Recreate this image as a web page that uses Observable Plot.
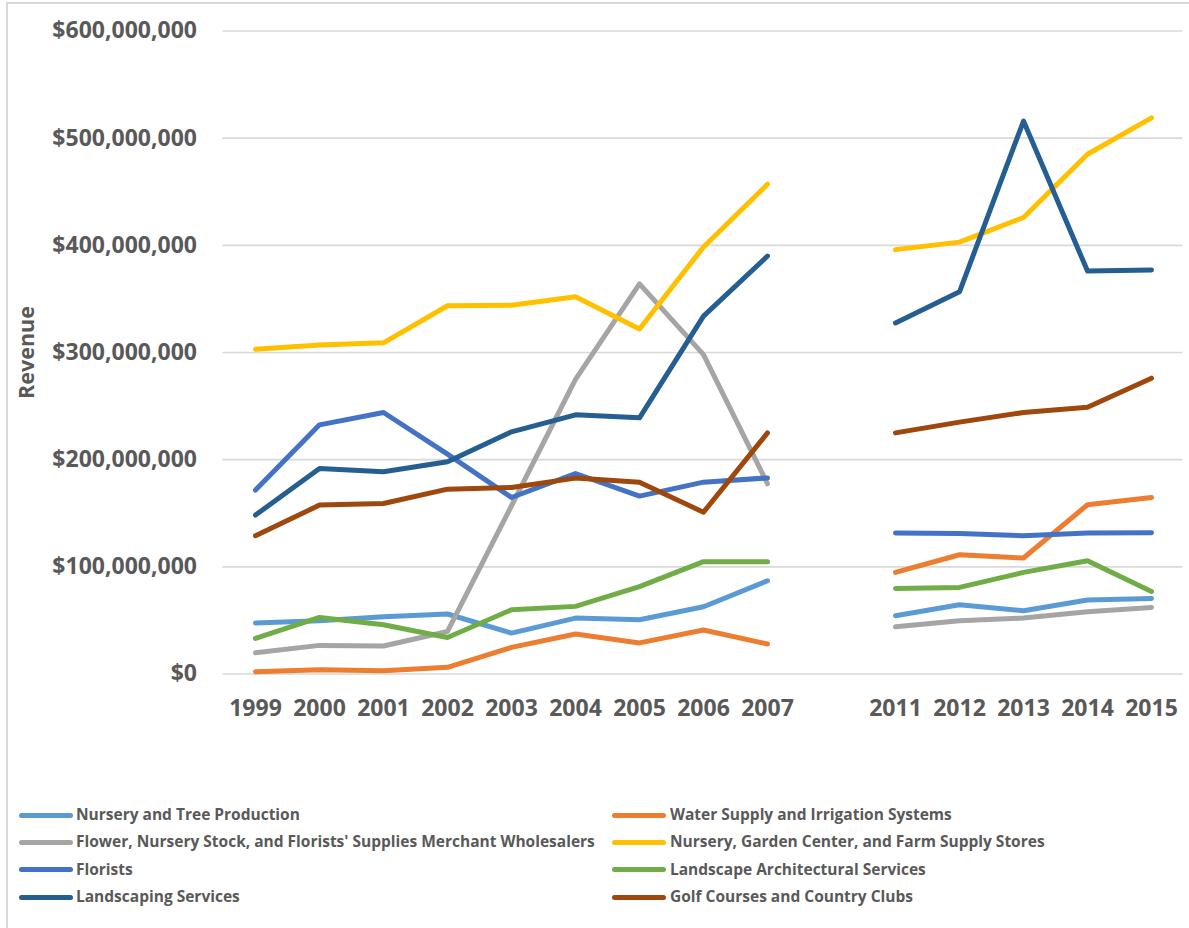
<!DOCTYPE html>
<html>
<head>
<meta charset="utf-8">
<script src="https://cdn.jsdelivr.net/npm/d3@7"></script>
<script src="https://cdn.jsdelivr.net/npm/@observablehq/plot@0.6"></script>
<style>
  html, body { margin: 0; padding: 0; background: #fff; overflow: hidden; width: 1189px; height: 928px; }
  #frame { position: absolute; left: 6px; top: 2px; width: 1300px; height: 1000px; border: 2px solid #d9d9d9; box-sizing: border-box; }
  #chart { position: absolute; left: 0; top: 0; }
  .sw { position: absolute; height: 5px; border-radius: 2.5px; }
  .lt { position: absolute; font-family: "Open Sans", sans-serif; font-weight: 700; font-size: 15.5px; color: #595959; white-space: nowrap; line-height: 1; transform: translateY(-52%); }
</style>
</head>
<body>
<div id="frame"></div>
<div id="chart"></div>
<div id="legend"></div>
<script>
// Category labels (years; a blank slot separates 2007 and 2011)
const years = ["1999","2000","2001","2002","2003","2004","2005","2006","2007","2011","2012","2013","2014","2015"];
const gapLabel = " ";

// Series names and colors (legend order)
const seriesNames = [
  "Nursery and Tree Production",
  "Water Supply and Irrigation Systems",
  "Flower, Nursery Stock, and Florists' Supplies Merchant Wholesalers",
  "Nursery, Garden Center, and Farm Supply Stores",
  "Florists",
  "Landscape Architectural Services",
  "Landscaping Services",
  "Golf Courses and Country Clubs"
];
const seriesColors = ["#5B9BD5","#ED7D31","#A5A5A5","#FFC000","#4472C4","#70AD47","#255E91","#9E480E"];

// Revenue values, millions of dollars, one per year above
const nurseryTree     = [47.5, 49.7, 53.4, 56.0, 38.2, 52.2, 50.6, 62.8, 87.0, 54.4, 64.6, 59.0, 69.0, 70.5];
const waterSupply     = [2.1, 4.0, 3.1, 6.2, 24.8, 37.3, 29.0, 41.0, 28.0, 94.8, 111.3, 108.2, 157.9, 164.7];
const flowerWholesale = [19.9, 26.7, 26.1, 39.7, 157.0, 275.0, 364.0, 298.0, 177.5, 44.1, 49.7, 52.2, 58.1, 62.1];
const gardenCenter    = [303.0, 307.0, 309.0, 343.6, 344.0, 352.0, 322.0, 398.5, 457.0, 396.0, 403.0, 426.0, 485.0, 519.0];
const florists        = [171.6, 232.5, 244.0, 205.2, 164.7, 187.1, 166.0, 179.0, 183.0, 131.5, 131.1, 129.0, 131.5, 131.8];
const landscapeArch   = [33.2, 52.8, 46.0, 34.1, 60.0, 63.1, 81.5, 104.8, 104.8, 79.8, 80.8, 94.8, 105.7, 77.0];
const landscaping     = [148.3, 191.8, 188.7, 198.0, 226.0, 241.8, 239.0, 334.0, 390.0, 327.6, 356.6, 516.0, 376.0, 377.0];
const golf            = [129.0, 157.6, 159.1, 172.5, 174.0, 182.8, 179.0, 151.0, 225.0, 225.0, 235.0, 244.0, 249.0, 276.0];

// Y axis ticks
const yTicks = [0, 100e6, 200e6, 300e6, 400e6, 500e6, 600e6];

const seriesValues = [nurseryTree, waterSupply, flowerWholesale, gardenCenter, florists, landscapeArch, landscaping, golf];

const rows = [];
seriesNames.forEach((name, i) => {
  years.forEach((yr, j) => {
    rows.push({series: name, year: yr, seg: +yr < 2008 ? "a" : "b", value: seriesValues[i][j] * 1e6});
  });
});

const xDomain = [...years.slice(0, 9), gapLabel, ...years.slice(9)];
const fmt = d3.format(",");

const chart = Plot.plot({
  width: 1189,
  height: 760,
  marginLeft: 222.5,
  marginRight: 6.5,
  marginTop: 30.5,
  marginBottom: 86.5,
  style: {fontFamily: "Open Sans, sans-serif", color: "#595959", background: "transparent", overflow: "visible"},
  x: {type: "point", domain: xDomain, padding: 0.5},
  y: {domain: [0, 600e6]},
  color: {domain: seriesNames, range: seriesColors},
  marks: [
    Plot.ruleY(yTicks, {stroke: "#d9d9d9", strokeWidth: 1.6}),
    Plot.axisY({ticks: yTicks, tickSize: 0, tickPadding: 26, fontSize: 23, fontWeight: "bold", fill: "#595959",
      tickFormat: d => "$" + fmt(d), label: null}),
    Plot.axisX({tickSize: 0, tickPadding: 25.5, fontSize: 23, fontWeight: "bold", fill: "#595959", label: null}),
    Plot.line(rows, {x: "year", y: "value", z: d => d.series + d.seg, stroke: "series",
      strokeWidth: 5, strokeLinecap: "round", strokeLinejoin: "round"}),
    Plot.text(["Revenue"], {frameAnchor: "left", textAnchor: "middle", lineAnchor: "middle", dx: -195.5, rotate: -90,
      fontSize: 21.5, fontWeight: "bold", fill: "#595959"})
  ]
});
document.getElementById("chart").appendChild(chart);

// Legend (two columns, row-wise like the original)
const legend = document.getElementById("legend");
const rowYs = [815, 842.3, 869.6, 897];
seriesNames.forEach((name, i) => {
  const col = i % 2, row = Math.floor(i / 2);
  const swLeft = col === 0 ? 19 : 612;
  const txLeft = col === 0 ? 76 : 670;
  const sw = document.createElement("div");
  sw.className = "sw";
  sw.style.left = swLeft + "px";
  sw.style.width = "54px";
  sw.style.top = (rowYs[row] - 2.5) + "px";
  sw.style.background = seriesColors[i];
  legend.appendChild(sw);
  const t = document.createElement("div");
  t.className = "lt";
  t.style.left = txLeft + "px";
  t.style.top = rowYs[row] + "px";
  t.textContent = name;
  legend.appendChild(t);
});
</script>
</body>
</html>
